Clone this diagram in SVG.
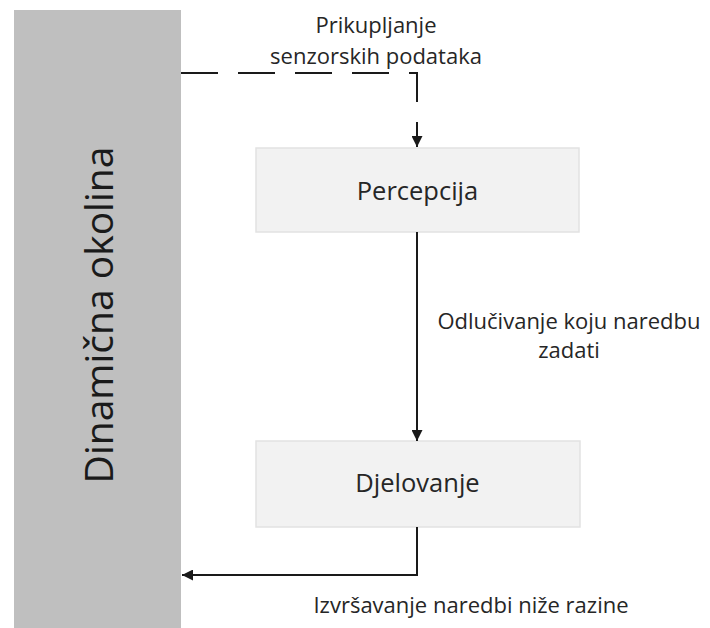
<svg xmlns="http://www.w3.org/2000/svg" width="710" height="628" viewBox="0 0 710 628">
<defs>
<style>
text{font-family:"Open Sans","Noto Sans","Liberation Sans",sans-serif;fill:#262626}
.lbl{font-size:22px;font-weight:500;text-anchor:middle}
.node rect{fill:#f2f2f2;stroke:#e2e2e2;stroke-width:1.5}
.node text{font-size:25.5px;font-weight:500;text-anchor:middle}
.conn{fill:none;stroke:#1a1a1a;stroke-width:2}
</style>
<marker id="ah" viewBox="0 0 10 10" refX="10" refY="5" markerWidth="6" markerHeight="5.5" markerUnits="strokeWidth" orient="auto">
<path d="M0,0 L10,5 L0,10 z" fill="#1a1a1a"/>
</marker>
</defs>
<rect width="710" height="628" fill="#ffffff"/>
<g id="env">
<rect x="14" y="10" width="167" height="618" fill="#bfbfbf"/>
<text transform="translate(113,315) rotate(-90)" style="font-size:39px;text-anchor:middle;fill:#1a1a1a">Dinamična okolina</text>
</g>
<g id="percepcija" class="node">
<rect x="256" y="148" width="323" height="84"/>
<text x="417.5" y="200">Percepcija</text>
</g>
<g id="djelovanje" class="node">
<rect x="256" y="441" width="324" height="86"/>
<text x="417.5" y="492">Djelovanje</text>
</g>
<g id="connectors">
<path class="conn" d="M181,73 H417 V147" stroke-dasharray="37 20" stroke="#333" marker-end="url(#ah)"/>
<path class="conn" d="M417,232 V441" marker-end="url(#ah)"/>
<path class="conn" d="M417,527 V575 H182" marker-end="url(#ah)"/>
<text class="lbl" x="376" y="33">Prikupljanje</text>
<text class="lbl" x="376" y="64">senzorskih podataka</text>
<text class="lbl" x="569" y="329">Odlučivanje koju naredbu</text>
<text class="lbl" x="569" y="358">zadati</text>
<text class="lbl" x="471" y="613">Izvršavanje naredbi niže razine</text>
</g>
</svg>
